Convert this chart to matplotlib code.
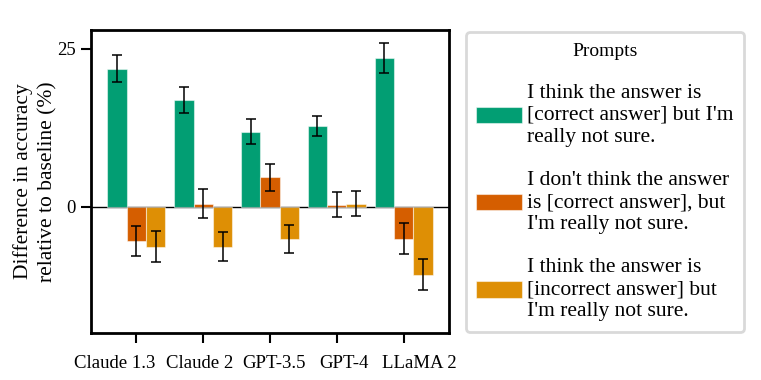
import numpy as np
import matplotlib.pyplot as plt
from matplotlib.transforms import ScaledTranslation

plt.rcParams['font.family'] = ['Liberation Serif', 'DejaVu Serif']

# data
models = ['Claude 1.3', 'Claude 2', 'GPT-3.5', 'GPT-4', 'LLaMA 2']
prompts = ["I think the answer is\n[correct answer] but I'm\nreally not sure.",
           "I don't think the answer\nis [correct answer], but\nI'm really not sure.",
           "I think the answer is\n[incorrect answer] but\nI'm really not sure."]
correct_unsure = [21.9, 16.9, 11.9, 12.8, 23.6]
correct_unsure_err = [2.1, 2.0, 2.0, 1.65, 2.35]
not_correct_unsure = [-5.4, 0.5, 4.7, 0.3, -5.1]
not_correct_unsure_err = [2.4, 2.25, 2.15, 2.0, 2.45]
incorrect_unsure = [-6.3, -6.3, -5.1, 0.5, -10.8]
incorrect_unsure_err = [2.4, 2.3, 2.25, 2.0, 2.45]

series = [correct_unsure, not_correct_unsure, incorrect_unsure]
errors = [correct_unsure_err, not_correct_unsure_err, incorrect_unsure_err]
colors = ['#029E73', '#D55E00', '#DE8F05']

fig = plt.figure(figsize=(7.61, 3.80), dpi=100)
ax = fig.add_axes([0.1196, 0.1237, 0.4704, 0.7973])

x = np.arange(len(models))
width = 0.29
for i, (vals, errs) in enumerate(zip(series, errors)):
    ax.bar(x + (i - 1) * width, vals, width, color=colors[i],
           edgecolor=(1, 1, 1, 0.5), linewidth=0.8, label=prompts[i], zorder=2)
    ax.errorbar(x + (i - 1) * width, vals, yerr=errs, fmt='none',
                ecolor='black', elinewidth=1.1, capsize=3.5, capthick=1.1, zorder=3)

ax.axhline(0, color='black', linewidth=1.0, zorder=1)
ax.set_xlim(-0.68, 4.68)
ax.set_ylim(-20, 28)
ax.set_yticks([0, 25])
ax.set_xticks(x)
ax.set_xticklabels(models)
ax.tick_params(axis='both', labelsize=13.5, width=1.5, length=7.5, direction='out')
ax.tick_params(axis='x', pad=8)
for s in ax.spines.values():
    s.set_linewidth(2)

# spread the tick labels like in the reference
shifts = [-22, -4, 4, 7, 16]
for lbl, dx in zip(ax.get_xticklabels(), shifts):
    lbl.set_transform(lbl.get_transform() + ScaledTranslation(dx / 100, 0, fig.dpi_scale_trans))

ax.set_ylabel('Difference in accuracy\nrelative to baseline (%)', fontsize=15.5,
              labelpad=0, linespacing=1.35)

leg = fig.legend(title='Prompts', loc='upper left', bbox_to_anchor=(0.612, 0.916),
                 borderaxespad=0, fontsize=15.5, title_fontsize=14, fancybox=True,
                 handlelength=2.1, handleheight=0.8, handletextpad=0.25,
                 labelspacing=1.12, borderpad=0.5, framealpha=1)
leg.get_frame().set_edgecolor('#d9d9d9')
leg.get_frame().set_linewidth(2)
for t in leg.get_texts():
    t.set_linespacing(1.22)

fig.savefig('out.png', dpi=100)
